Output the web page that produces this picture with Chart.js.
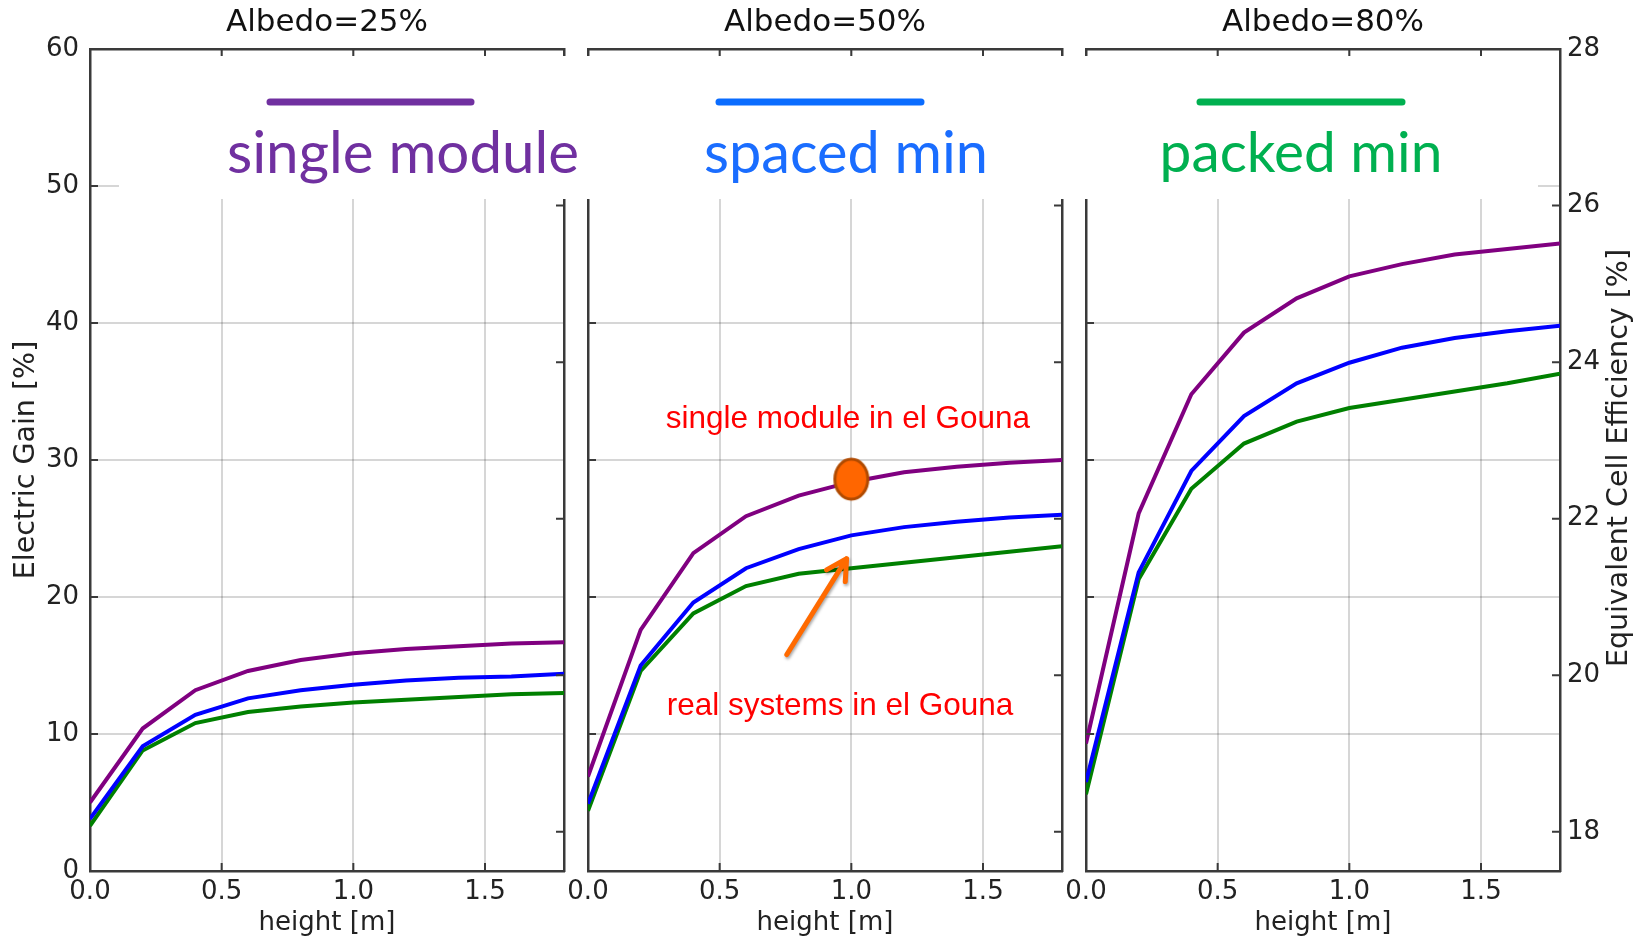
<!DOCTYPE html>
<html>
<head>
<meta charset="utf-8">
<script src="https://cdn.jsdelivr.net/npm/chart.js@4.4.1/dist/chart.umd.min.js"></script>
<style>
  html, body { margin: 0; padding: 0; background: #fff; }
  #wrap { position: relative; width: 1644px; height: 940px; overflow: hidden; }
  #wrap canvas { position: absolute; left: 0; top: 0; }
</style>
</head>
<body>
<div id="wrap">
  <canvas id="c25" width="1644" height="940"></canvas>
  <canvas id="c50" width="1644" height="940"></canvas>
  <canvas id="c80" width="1644" height="940"></canvas>
</div>
<script>
// heights [m] on the x axis
const heights = [0, 0.2, 0.4, 0.6, 0.8, 1.0, 1.2, 1.4, 1.6, 1.8];

// electric gain [%]
const single25 = [5.0, 10.4, 13.2, 14.6, 15.4, 15.9, 16.2, 16.4, 16.6, 16.7];
const spaced25 = [3.8, 9.1, 11.4, 12.6, 13.2, 13.6, 13.9, 14.1, 14.2, 14.4];
const packed25 = [3.3, 8.8, 10.8, 11.6, 12.0, 12.3, 12.5, 12.7, 12.9, 13.0];

const single50 = [6.9, 17.6, 23.2, 25.9, 27.4, 28.4, 29.1, 29.5, 29.8, 30.0];
const spaced50 = [4.9, 15.0, 19.6, 22.1, 23.5, 24.5, 25.1, 25.5, 25.8, 26.0];
const packed50 = [4.4, 14.6, 18.8, 20.8, 21.7, 22.1, 22.5, 22.9, 23.3, 23.7];

const single80 = [9.3, 26.1, 34.8, 39.3, 41.8, 43.4, 44.3, 45.0, 45.4, 45.8];
const spaced80 = [6.5, 21.8, 29.2, 33.2, 35.6, 37.1, 38.2, 38.9, 39.4, 39.8];
const packed80 = [5.6, 21.3, 27.9, 31.2, 32.8, 33.8, 34.4, 35.0, 35.6, 36.3];

const panelTitles = ["Albedo=25%", "Albedo=50%", "Albedo=80%"];
const seriesNames = ["single module", "spaced min", "packed min"];
const effTitle = "Equivalent Cell Efficiency [%]";

// tick labels
const heightTicks = [0, 0.5, 1.0, 1.5];
const gainTicks = [0, 10, 20, 30, 40, 50, 60];
const effTicks = [18, 20, 22, 24, 26, 28];
const effMin = 17.5, effMax = 28; // 17.5 * (1 + gain/100) for gain 0..60

// el Gouna annotations (panel 2)
const gounaModule = [{ x: 1.0, y: 28.6 }];
const arrowFrom = { x: 0.755, y: 15.8 };
const arrowTo = { x: 0.982, y: 22.8 };
const noteModule = { x: 0.987, y: 32.3, text: "single module in el Gouna" };
const noteSystems = { x: 0.957, y: 11.4, text: "real systems in el Gouna" };

const lineColors = ["#800080", "#0000ff", "#008000"];
const spine = "#3a3a3a";
const gridColor = "rgba(0,0,0,0.16)";
const font = "'DejaVu Sans', sans-serif";

function toPoints(vals) {
  return vals.map((v, i) => ({ x: heights[i], y: v }));
}

// matplotlib-style ticks pointing into the plot
const innerTicks = {
  id: "innerTicks",
  afterDatasetsDraw(chart) {
    const { ctx, chartArea: a, scales } = chart;
    ctx.save();
    ctx.strokeStyle = spine;
    ctx.lineWidth = 2;
    ctx.beginPath();
    heightTicks.forEach(v => {
      const px = scales.x.getPixelForValue(v);
      ctx.moveTo(px, a.bottom); ctx.lineTo(px, a.bottom - 8);
      ctx.moveTo(px, a.top); ctx.lineTo(px, a.top + 8);
    });
    gainTicks.forEach(v => {
      const py = scales.y.getPixelForValue(v);
      ctx.moveTo(a.left, py); ctx.lineTo(a.left + 8, py);
    });
    effTicks.forEach(v => {
      const py = scales.y2.getPixelForValue(v);
      ctx.moveTo(a.right, py); ctx.lineTo(a.right - 8, py);
    });
    ctx.stroke();
    ctx.restore();
  }
};

// right axis title reads bottom-to-top like matplotlib's twinx label
const effAxisTitle = {
  id: "effAxisTitle",
  afterDraw(chart) {
    const { ctx, chartArea: a, scales } = chart;
    ctx.save();
    ctx.translate(scales.y2.right - 16, (a.top + a.bottom) / 2 - 2);
    ctx.rotate(-Math.PI / 2);
    ctx.fillStyle = "#222";
    ctx.font = "28.5px " + font;
    ctx.textAlign = "center";
    ctx.textBaseline = "middle";
    ctx.fillText(effTitle, 0, 0);
    ctx.restore();
  }
};

// red notes + orange arrow on the 50% panel
const gounaNotes = {
  id: "gounaNotes",
  afterDatasetsDraw(chart) {
    const { ctx, scales } = chart;
    const xs = scales.x, ys = scales.y;
    ctx.save();
    ctx.fillStyle = "#ff0000";
    ctx.font = "31.5px 'Liberation Sans', Arial, sans-serif";
    ctx.textAlign = "center";
    ctx.textBaseline = "alphabetic";
    [noteModule, noteSystems].forEach(n => {
      ctx.fillText(n.text, xs.getPixelForValue(n.x), ys.getPixelForValue(n.y));
    });

    const x0 = xs.getPixelForValue(arrowFrom.x), y0 = ys.getPixelForValue(arrowFrom.y);
    const x1 = xs.getPixelForValue(arrowTo.x), y1 = ys.getPixelForValue(arrowTo.y);
    const ang = Math.atan2(y1 - y0, x1 - x0);
    ctx.shadowColor = "rgba(0,0,0,0.35)";
    ctx.shadowBlur = 3;
    ctx.shadowOffsetX = 1;
    ctx.shadowOffsetY = 2;
    ctx.strokeStyle = "#ff6a00";
    ctx.lineWidth = 5;
    ctx.lineCap = "round";
    ctx.lineJoin = "round";
    ctx.beginPath();
    ctx.moveTo(x0, y0);
    ctx.lineTo(x1, y1);
    ctx.moveTo(x1 - 23 * Math.cos(ang - 0.5), y1 - 23 * Math.sin(ang - 0.5));
    ctx.lineTo(x1, y1);
    ctx.lineTo(x1 - 23 * Math.cos(ang + 0.5), y1 - 23 * Math.sin(ang + 0.5));
    ctx.stroke();
    ctx.restore();
  }
};

// pasted legend: white patch with coloured bars and names
const legendPatch = {
  id: "legendPatch",
  afterDraw(chart) {
    const ctx = chart.ctx;
    const entries = [
      { bar: [270, 471], cx: 403, w: 352, barColor: "#7030a0", textColor: "#7030a0" },
      { bar: [719, 921], cx: 846, w: 284, barColor: "#0a6cff", textColor: "#1a6dff" },
      { bar: [1200, 1402], cx: 1301, w: 283, barColor: "#00b050", textColor: "#00b050" }
    ];
    ctx.save();
    ctx.fillStyle = "#ffffff";
    ctx.fillRect(119, 56, 1538 - 119, 199 - 56);
    entries.forEach((e, i) => {
      ctx.strokeStyle = e.barColor;
      ctx.lineWidth = 7;
      ctx.lineCap = "round";
      ctx.beginPath();
      ctx.moveTo(e.bar[0], 102);
      ctx.lineTo(e.bar[1], 102);
      ctx.stroke();

      ctx.font = "50px Lato, sans-serif";
      const size = 50 * e.w / ctx.measureText(seriesNames[i]).width;
      ctx.font = size.toFixed(1) + "px Lato, sans-serif";
      ctx.fillStyle = e.textColor;
      ctx.textAlign = "center";
      ctx.textBaseline = "middle";
      ctx.fillText(seriesNames[i], e.cx, 154);
    });
    ctx.restore();
  }
};

function ellipseMarker() {
  const c = document.createElement("canvas");
  c.width = 40; c.height = 46;
  const g = c.getContext("2d");
  g.beginPath();
  g.ellipse(20, 23, 16.5, 20, 0, 0, Math.PI * 2);
  g.fillStyle = "#ff6600";
  g.fill();
  g.lineWidth = 3;
  g.strokeStyle = "#b04a00";
  g.stroke();
  return c;
}

function makePanel(id, idx, series, cfg) {
  const datasets = series.map((vals, i) => ({
    label: seriesNames[i],
    data: toPoints(vals),
    borderColor: lineColors[i],
    borderWidth: 4,
    pointRadius: 0,
    tension: 0,
    fill: false
  }));
  if (cfg.dot) {
    datasets.unshift({
      type: "scatter",
      label: "single module in el Gouna",
      data: gounaModule,
      pointStyle: ellipseMarker(),
      pointRadius: 20,
      order: -1
    });
  }
  const tickFont = { family: font, size: 26 };
  return new Chart(document.getElementById(id), {
    type: "line",
    data: { datasets },
    plugins: [innerTicks].concat(cfg.plugins || []),
    options: {
      responsive: false,
      animation: false,
      devicePixelRatio: 1,
      events: [],
      layout: { padding: { left: cfg.padL, right: cfg.padR, top: 0, bottom: 0 } },
      plugins: {
        legend: { display: false },
        tooltip: { enabled: false },
        title: {
          display: true,
          text: panelTitles[idx],
          fullSize: false,
          color: "#111",
          font: { family: font, size: 31, weight: "normal" },
          padding: { top: 4.4, bottom: 7.4 }
        }
      },
      scales: {
        x: {
          type: "linear",
          position: "bottom",
          min: 0, max: 1.8,
          afterBuildTicks: s => { s.ticks = heightTicks.map(v => ({ value: v })); },
          afterFit: s => { s.height = 69; s.paddingLeft = 0; s.paddingRight = 0; },
          ticks: { font: tickFont, color: "#222", padding: 6, maxRotation: 0, autoSkip: false,
                   callback: v => v.toFixed(1) },
          grid: { color: gridColor, lineWidth: 2, drawTicks: false },
          border: { color: spine, width: 2.5 },
          title: { display: true, text: "height [m]", color: "#222",
                   font: { family: font, size: 26 }, padding: { top: 0, bottom: 1 } }
        },
        xTop: {
          type: "linear",
          position: "top",
          min: 0, max: 1.8,
          afterFit: s => { s.height = 0; s.paddingLeft = 0; s.paddingRight = 0; },
          ticks: { display: false },
          grid: { drawOnChartArea: false, drawTicks: false },
          border: { color: spine, width: 2.5 }
        },
        y: {
          type: "linear",
          position: "left",
          min: 0, max: 60,
          afterBuildTicks: s => { s.ticks = gainTicks.map(v => ({ value: v })); },
          afterFit: s => { s.width = cfg.yW; s.paddingTop = 0; s.paddingBottom = 0; },
          ticks: { display: cfg.showY, font: tickFont, color: "#222", padding: 11 },
          grid: { color: gridColor, lineWidth: 2, drawTicks: false },
          border: { color: spine, width: 2.5 },
          title: { display: cfg.showY, text: "Electric Gain [%]", color: "#222",
                   font: { family: font, size: 28.5 }, padding: { top: 0, bottom: 0 } }
        },
        y2: {
          type: "linear",
          position: "right",
          min: effMin, max: effMax,
          afterBuildTicks: s => { s.ticks = effTicks.map(v => ({ value: v })); },
          afterFit: s => { s.width = cfg.y2W; s.paddingTop = 0; s.paddingBottom = 0; },
          ticks: { display: cfg.showY2, font: tickFont, color: "#222", padding: 7 },
          grid: { drawOnChartArea: false, drawTicks: false },
          border: { color: spine, width: 2.5 }
        }
      }
    }
  });
}

makePanel("c25", 0, [single25, spaced25, packed25],
  { padL: 9, padR: 1080, yW: 81, y2W: 0, showY: true, showY2: false });
makePanel("c50", 1, [single50, spaced50, packed50],
  { padL: 588, padR: 582, yW: 0, y2W: 0, showY: false, showY2: false, dot: true, plugins: [gounaNotes] });
makePanel("c80", 2, [single80, spaced80, packed80],
  { padL: 1086, padR: 8, yW: 0, y2W: 76, showY: false, showY2: true, plugins: [effAxisTitle, legendPatch] });
</script>
</body>
</html>
